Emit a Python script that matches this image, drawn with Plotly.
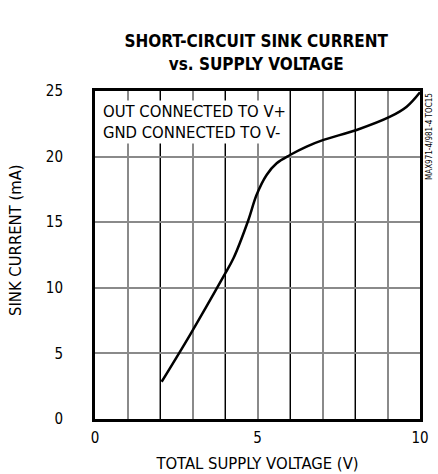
import plotly.graph_objects as go

voltage = [2.05, 2.92, 3.95, 4.26, 4.72, 4.97, 5.28, 5.59, 6.0, 6.51, 7.03, 8.05, 9.08, 9.59, 10.0]
current = [2.84, 6.40, 10.85, 12.25, 15.17, 17.07, 18.6, 19.49, 20.12, 20.76, 21.27, 22.03, 23.04, 23.8, 24.9]
x_ticks = [0, 5, 10]
y_ticks = [0, 5, 10, 15, 20, 25]

FONT = "DejaVu Sans Condensed, Liberation Sans Narrow, sans-serif"

fig = go.Figure()
fig.add_trace(go.Scatter(x=voltage, y=current, mode="lines",
                         line=dict(color="black", width=2.5, shape="spline", smoothing=1.0),
                         showlegend=False, hoverinfo="skip"))
fig.add_trace(go.Scatter(x=[0, 10], y=[0, 0], xaxis="x2", mode="markers",
                         marker=dict(opacity=0), showlegend=False, hoverinfo="skip"))

fig.update_layout(
    width=438, height=474,
    margin=dict(l=95, r=18, t=91, b=55),
    paper_bgcolor="white", plot_bgcolor="white",
    font=dict(family=FONT, color="black", size=15),
    title=dict(text="<b>SHORT-CIRCUIT SINK CURRENT<br>vs. SUPPLY VOLTAGE</b>",
               x=0.585, xanchor="center", y=0.90, yanchor="middle",
               font=dict(family=FONT, size=17, color="black")),
    xaxis=dict(range=[0, 10], tickvals=[0, 2, 4, 6, 8, 10], showticklabels=False,
               showgrid=True, gridcolor="black", gridwidth=1,
               minor=dict(dtick=1, showgrid=True, gridcolor="#8a8a8a", gridwidth=1.5),
               showline=True, linecolor="black", linewidth=3, mirror=True,
               zeroline=False, ticks="", automargin=False),
    xaxis2=dict(range=[0, 10], overlaying="x", side="bottom", tickvals=x_ticks,
                ticktext=[str(v) for v in x_ticks], showgrid=False, zeroline=False,
                showline=False, ticks="", ticklabelstandoff=8, automargin=False,
                tickfont=dict(size=15),
                title=dict(text="TOTAL SUPPLY VOLTAGE (V)", standoff=11, font=dict(size=16.5))),
    yaxis=dict(range=[0, 25], tickvals=y_ticks, ticktext=[str(v) for v in y_ticks],
               showgrid=True, gridcolor="#8a8a8a", gridwidth=1.5,
               showline=True, linecolor="black", linewidth=3, mirror=True,
               zeroline=False, ticks="", ticklabelstandoff=26, automargin=False,
               tickfont=dict(size=15)),
)

fig.add_annotation(x=0, y=0.5, xref="paper", yref="paper", xanchor="center", yanchor="middle",
                   xshift=-80, yshift=15, textangle=-90,
                   text="SINK CURRENT (mA)", showarrow=False,
                   font=dict(family=FONT, size=16.5, color="black"))
fig.add_annotation(x=0.0, y=1.0, xref="paper", yref="paper", xanchor="left", yanchor="top",
                   xshift=6, yshift=-9,
                   text="OUT CONNECTED TO V+<br>GND CONNECTED TO V-", showarrow=False,
                   align="left", bgcolor="white", borderpad=1,
                   font=dict(family=FONT, size=16.5, color="black"))
fig.add_annotation(x=1.0, y=1.0, xref="paper", yref="paper", xanchor="left", yanchor="top",
                   xshift=3, yshift=0, textangle=-90,
                   text="MAX971-4/981-4 TOC15", showarrow=False,
                   font=dict(family=FONT, size=8, color="black"))

fig.write_html("out.html", config={"displayModeBar": False},
               post_script="document.body.style.margin='0';document.body.style.overflow='hidden';")
